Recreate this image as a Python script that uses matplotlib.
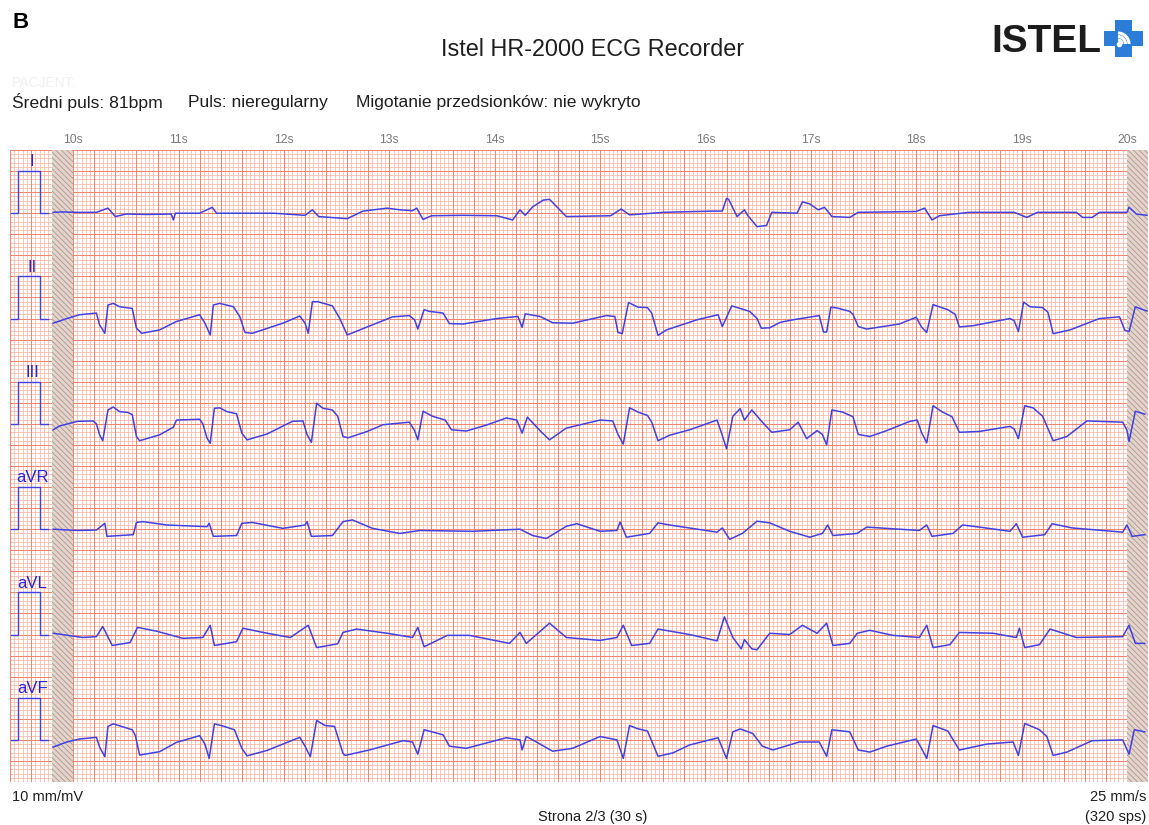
import numpy as np
import matplotlib.pyplot as plt
from matplotlib.patches import Rectangle, Polygon, Arc

plt.rcParams['font.family'] = ['Liberation Sans', 'DejaVu Sans']
plt.rcParams['hatch.linewidth'] = 0.6

# ---- data (time in s, amplitude in mV) ----
lead_names = ['I', 'II', 'III', 'aVR', 'aVL', 'aVF']
sec_ticks = [10, 11, 12, 13, 14, 15, 16, 17, 18, 19, 20]

t_I = [9.81, 9.90, 10.04, 10.22, 10.33, 10.40, 10.50, 10.70, 10.93, 10.95, 10.97, 11.20, 11.32, 11.36,
       11.60, 11.90, 12.20, 12.27, 12.33, 12.60, 12.75, 12.98, 13.10, 13.22, 13.26, 13.32, 13.40, 13.70,
       14.02, 14.17, 14.24, 14.29, 14.36, 14.46, 14.52, 14.59, 14.68, 15.10, 15.20, 15.28, 15.60, 15.90,
       16.10, 16.16, 16.20, 16.22, 16.30, 16.37, 16.40, 16.49, 16.58, 16.63, 16.87, 16.92, 16.99, 17.07,
       17.13, 17.20, 17.37, 17.45, 18.00, 18.08, 18.15, 18.22, 18.50, 18.93, 19.05, 19.15, 19.52, 19.58,
       19.67, 19.74, 20.00, 20.02, 20.09, 20.19]
v_I = [0.02, 0.03, 0.02, 0.02, 0.12, -0.08, -0.02, -0.03, -0.02, -0.16, 0.0, 0.0, 0.14, 0.0,
       0.0, 0.0, -0.05, 0.08, -0.08, -0.13, 0.05, 0.12, 0.08, 0.06, 0.12, -0.15, -0.06, -0.05,
       -0.06, -0.16, 0.08, -0.05, 0.15, 0.31, 0.33, 0.15, -0.08, -0.06, 0.10, -0.04, 0.02, 0.04,
       0.05, 0.05, 0.35, 0.33, -0.08, 0.08, -0.05, -0.32, -0.29, 0.02, 0.0, 0.27, 0.22, 0.08,
       0.14, -0.08, -0.10, 0.02, 0.04, 0.12, -0.16, -0.06, 0.02, 0.02, -0.10, 0.02, 0.02, -0.10,
       -0.10, 0.02, 0.02, 0.14, -0.02, -0.05]

t_II = [9.81, 9.94, 10.06, 10.22, 10.25, 10.30, 10.33, 10.38, 10.44, 10.56, 10.60, 10.65, 10.82, 10.98,
        11.20, 11.25, 11.30, 11.33, 11.39, 11.52, 11.58, 11.63, 11.70, 11.99, 12.15, 12.20, 12.23, 12.27,
        12.32, 12.46, 12.53, 12.60, 12.79, 13.03, 13.19, 13.24, 13.27, 13.33, 13.38, 13.51, 13.57, 13.70,
        14.02, 14.22, 14.26, 14.29, 14.43, 14.55, 14.74, 15.06, 15.14, 15.17, 15.21, 15.27, 15.36, 15.45,
        15.49, 15.55, 15.63, 15.92, 16.12, 16.16, 16.25, 16.42, 16.49, 16.53, 16.61, 16.71, 16.83, 17.08,
        17.12, 17.15, 17.19, 17.25, 17.37, 17.40, 17.45, 17.53, 17.84, 18.00, 18.05, 18.10, 18.16, 18.30,
        18.37, 18.41, 18.54, 18.89, 18.93, 18.97, 19.02, 19.08, 19.20, 19.25, 19.30, 19.46, 19.74, 19.93,
        19.98, 20.02, 20.08, 20.14, 20.19]
v_II = [-0.11, 0.0, 0.09, 0.13, -0.15, -0.35, 0.32, 0.36, 0.28, 0.24, -0.23, -0.35, -0.27, -0.07,
        0.09, -0.11, -0.39, 0.32, 0.36, 0.28, 0.05, -0.33, -0.35, -0.11, 0.06, -0.11, -0.35, 0.40,
        0.40, 0.30, 0.0, -0.39, -0.20, 0.04, 0.07, -0.03, -0.25, 0.21, 0.17, 0.13, -0.12, -0.13,
        0.0, 0.05, -0.21, 0.11, 0.05, -0.10, -0.11, 0.07, 0.05, -0.33, -0.36, 0.38, 0.27, 0.26,
        0.13, -0.40, -0.27, -0.03, 0.09, -0.19, 0.30, 0.17, 0.0, -0.23, -0.22, -0.09, -0.03, 0.07,
        -0.32, -0.32, 0.27, 0.25, 0.17, 0.10, -0.19, -0.25, -0.13, 0.03, -0.20, -0.33, 0.33, 0.21,
        0.10, -0.20, -0.17, 0.0, -0.05, -0.31, 0.39, 0.28, 0.26, 0.15, -0.36, -0.27, 0.0, 0.04,
        -0.28, -0.31, 0.28, 0.22, 0.18]

t_III = [9.81, 9.87, 10.04, 10.19, 10.22, 10.25, 10.28, 10.33, 10.38, 10.44, 10.52, 10.56, 10.60, 10.63,
         10.82, 10.95, 10.98, 11.20, 11.23, 11.27, 11.30, 11.34, 11.39, 11.46, 11.55, 11.60, 11.65, 11.84,
         12.08, 12.18, 12.22, 12.26, 12.31, 12.37, 12.46, 12.51, 12.56, 12.61, 12.79, 12.94, 13.19, 13.24,
         13.27, 13.32, 13.41, 13.53, 13.59, 13.73, 13.92, 14.11, 14.21, 14.26, 14.31, 14.43, 14.52, 14.68,
         15.00, 15.12, 15.17, 15.22, 15.28, 15.36, 15.45, 15.49, 15.55, 15.66, 15.85, 16.11, 16.15, 16.20,
         16.26, 16.33, 16.37, 16.44, 16.54, 16.63, 16.80, 16.88, 16.96, 17.06, 17.11, 17.15, 17.20, 17.30,
         17.40, 17.45, 17.56, 17.72, 17.94, 18.01, 18.05, 18.10, 18.16, 18.25, 18.34, 18.41, 18.60, 18.89,
         18.93, 18.97, 19.03, 19.11, 19.20, 19.30, 19.43, 19.62, 19.96, 20.00, 20.02, 20.08, 20.17]
v_III = [-0.14, -0.05, 0.06, 0.07, 0.0, -0.26, -0.40, 0.33, 0.40, 0.29, 0.27, 0.22, -0.30, -0.40,
         -0.26, -0.08, 0.09, 0.11, 0.0, -0.34, -0.46, 0.37, 0.38, 0.29, 0.24, -0.22, -0.38, -0.24,
         0.06, 0.07, -0.26, -0.44, 0.49, 0.37, 0.33, 0.18, -0.30, -0.33, -0.18, -0.02, 0.04, -0.16,
         -0.38, 0.30, 0.18, 0.09, -0.14, -0.17, -0.03, 0.14, 0.09, -0.22, 0.16, -0.16, -0.38, -0.10,
         0.09, 0.07, -0.25, -0.48, 0.38, 0.28, 0.20, 0.04, -0.40, -0.27, -0.14, 0.09, -0.20, -0.59,
         0.18, 0.36, 0.09, 0.33, 0.04, -0.20, -0.14, 0.04, -0.35, -0.16, -0.25, -0.50, 0.33, 0.28,
         0.17, -0.25, -0.30, -0.16, 0.06, 0.09, -0.20, -0.45, 0.43, 0.28, 0.17, -0.20, -0.18, -0.06,
         -0.12, -0.35, 0.43, 0.38, 0.18, -0.40, -0.30, 0.07, 0.04, -0.15, -0.42, 0.30, 0.23]

t_aVR = [9.81, 10.04, 10.22, 10.30, 10.32, 10.57, 10.60, 10.66, 10.89, 11.27, 11.29, 11.33, 11.55, 11.60,
         11.70, 11.99, 12.20, 12.22, 12.26, 12.46, 12.56, 12.65, 12.84, 13.10, 13.29, 13.79, 14.24, 14.36,
         14.49, 14.68, 14.78, 15.00, 15.16, 15.19, 15.25, 15.47, 15.55, 15.66, 16.11, 16.16, 16.23, 16.35,
         16.49, 16.61, 16.80, 16.99, 17.11, 17.16, 17.21, 17.44, 17.53, 18.03, 18.10, 18.15, 18.35, 18.44,
         18.60, 18.89, 18.95, 19.01, 19.22, 19.29, 19.48, 19.96, 20.00, 20.05, 20.17]
v_aVR = [0.0, -0.03, -0.02, 0.14, -0.17, -0.13, 0.16, 0.18, 0.10, 0.06, 0.14, -0.17, -0.15, 0.14,
         0.16, 0.02, 0.10, 0.18, -0.17, -0.15, 0.18, 0.22, 0.02, -0.10, -0.03, -0.05, 0.0, -0.15,
         -0.22, 0.07, 0.13, -0.05, -0.03, 0.17, -0.19, -0.10, 0.15, 0.10, -0.07, 0.03, -0.24, -0.10,
         0.19, 0.15, -0.05, -0.19, -0.10, 0.10, -0.15, -0.10, 0.05, -0.03, 0.10, -0.17, -0.10, 0.10,
         0.05, -0.05, 0.13, -0.19, -0.13, 0.13, 0.03, -0.07, 0.10, -0.17, -0.13]

t_aVL = [9.81, 10.09, 10.22, 10.28, 10.37, 10.54, 10.61, 10.79, 11.04, 11.23, 11.30, 11.34, 11.55, 11.61,
         11.80, 12.06, 12.23, 12.31, 12.51, 12.56, 12.69, 12.98, 13.22, 13.27, 13.33, 13.55, 13.76, 14.14,
         14.24, 14.30, 14.52, 14.68, 15.00, 15.16, 15.22, 15.30, 15.47, 15.55, 15.85, 16.11, 16.18, 16.26,
         16.34, 16.37, 16.44, 16.49, 16.61, 16.80, 16.92, 17.06, 17.15, 17.21, 17.37, 17.44, 17.56, 17.78,
         18.03, 18.10, 18.16, 18.32, 18.41, 18.73, 18.95, 18.98, 19.03, 19.17, 19.27, 19.52, 19.96, 20.02,
         20.08, 20.17]
v_aVL = [0.03, -0.07, -0.05, 0.19, -0.26, -0.19, 0.17, 0.08, -0.09, -0.07, 0.22, -0.26, -0.17, 0.15,
         0.05, -0.07, 0.22, -0.31, -0.22, 0.05, 0.13, 0.03, -0.07, 0.17, -0.29, -0.02, -0.02, -0.21,
         0.05, -0.21, 0.27, -0.07, -0.14, -0.07, 0.22, -0.26, -0.21, 0.13, 0.0, -0.15, 0.42, -0.07,
         -0.34, -0.12, -0.34, -0.36, 0.03, 0.0, 0.22, 0.03, 0.27, -0.26, -0.21, 0.03, 0.10, -0.02,
         -0.07, 0.22, -0.31, -0.24, 0.05, 0.03, -0.07, 0.15, -0.31, -0.24, 0.13, -0.07, -0.05, 0.22,
         -0.21, -0.21]

t_aVF = [9.81, 9.94, 10.06, 10.22, 10.25, 10.30, 10.33, 10.38, 10.56, 10.59, 10.63, 10.82, 10.98, 11.20,
         11.25, 11.29, 11.34, 11.42, 11.53, 11.60, 11.65, 11.84, 12.15, 12.20, 12.25, 12.31, 12.39, 12.48,
         12.56, 12.58, 12.81, 13.13, 13.22, 13.27, 13.33, 13.51, 13.57, 13.73, 14.11, 14.24, 14.26, 14.30,
         14.36, 14.55, 14.74, 15.00, 15.16, 15.22, 15.28, 15.35, 15.45, 15.55, 15.69, 15.85, 16.12, 16.20,
         16.26, 16.33, 16.45, 16.54, 16.64, 16.89, 17.08, 17.15, 17.20, 17.37, 17.45, 17.56, 17.72, 18.00,
         18.05, 18.10, 18.16, 18.30, 18.41, 18.67, 18.92, 18.97, 19.03, 19.17, 19.24, 19.30, 19.43, 19.67,
         19.96, 20.02, 20.07, 20.17]
v_aVF = [-0.17, -0.05, 0.02, 0.06, -0.17, -0.40, 0.32, 0.38, 0.24, 0.10, -0.36, -0.28, -0.06, 0.10,
         -0.10, -0.44, 0.38, 0.33, 0.24, -0.20, -0.38, -0.25, 0.06, -0.15, -0.40, 0.46, 0.34, 0.32,
         -0.32, -0.37, -0.24, -0.02, -0.05, -0.34, 0.24, 0.12, -0.15, -0.20, 0.05, 0.0, -0.24, 0.08,
         0.0, -0.27, -0.20, 0.08, 0.0, -0.44, 0.34, 0.27, 0.21, -0.39, -0.31, -0.12, 0.05, -0.44,
         0.19, 0.26, 0.15, -0.15, -0.24, -0.05, -0.05, -0.39, 0.24, 0.19, -0.24, -0.29, -0.15, 0.02,
         -0.20, -0.44, 0.34, 0.21, -0.24, -0.10, -0.05, -0.37, 0.39, 0.24, 0.08, -0.37, -0.29, -0.02,
         0.0, -0.34, 0.24, 0.19]

# 1 mV calibration pulse
cal_t = [9.41, 9.48, 9.48, 9.68, 9.68, 9.76]
cal_v = [0, 0, 1, 1, 0, 0]

traces = {'I': (t_I, v_I), 'II': (t_II, v_II), 'III': (t_III, v_III),
          'aVR': (t_aVR, v_aVR), 'aVL': (t_aVL, v_aVL), 'aVF': (t_aVF, v_aVF)}

W, H = 1149, 825
fig = plt.figure(figsize=(W / 100, H / 100), dpi=100)
fig.patch.set_facecolor('white')

# paper area in pixels
pl, pr, pt, pb = 10, 1148, 150, 782
t0, t1 = 9.4, 20.2
blue = '#4141e2'

paper = fig.add_axes([pl / W, 1 - pb / H, (pr - pl) / W, (pb - pt) / H])
paper.set_xlim(t0, t1)
paper.set_ylim(0, 150)
paper.axis('off')

# ECG grid: 1 mm minor, 5 mm major
minor_x = np.arange(t0, t1 + 1e-6, 0.04)
major_x = np.arange(t0, t1 + 1e-6, 0.2)
minor_y = np.arange(0, 150.001, 1)
major_y = np.arange(0, 150.001, 5)
paper.vlines(minor_x, 0, 150, color='#f9b09c', lw=0.5, zorder=1)
paper.hlines(minor_y, t0, t1, color='#f9b09c', lw=0.5, zorder=1)
paper.vlines(major_x, 0, 150, color='#f2876e', lw=0.75, zorder=2)
paper.hlines(major_y, t0, t1, color='#f2876e', lw=0.75, zorder=2)

# hatched lead-in / lead-out bands
for xs in (9.8, 20.0):
    paper.add_patch(Rectangle((xs, 0), 0.2, 150, facecolor='#e4d4cc', edgecolor='#a89890',
                              hatch='\\\\\\\\\\\\', lw=0, zorder=3))

# second labels above the paper
for s in sec_ticks:
    paper.text(s, 152.3, f'{s}s', ha='center', va='center', fontsize=8.8, color='#7a7a7a', clip_on=False)

# lead strips, 25 mm each
strip_h = (pb - pt) / 6
for i, name in enumerate(lead_names):
    top = pt + i * strip_h
    ax = fig.add_axes([pl / W, 1 - (top + strip_h) / H, (pr - pl) / W, strip_h / H])
    ax.set_xlim(t0, t1)
    ax.set_ylim(-1.0, 1.5)
    ax.axis('off')
    ax.patch.set_alpha(0)
    tt, vv = traces[name]
    ax.plot(cal_t, cal_v, color=blue, lw=1.0)
    ax.plot(tt, vv, color=blue, lw=1.1, clip_on=False)
    ax.text(9.61, 1.22, name, ha='center', va='center', fontsize=12, color='#2424dd')

# header
fig.text(12 / W, 1 - 22 / H, 'B', fontsize=16, fontweight='bold', ha='left', va='center')
fig.text(593 / W, 1 - 50 / H, 'Istel HR-2000 ECG Recorder', fontsize=16.8, ha='center', va='center',
         color='#1e1e1e')
fig.text(12 / W, 1 - 83 / H, 'PACJENT:', fontsize=10, ha='left', va='center', color='#f0f0f0')
fig.text(12 / W, 1 - 102 / H, 'Średni puls: 81bpm', fontsize=12.6, ha='left', va='center', color='#1e1e1e')
fig.text(188 / W, 1 - 102 / H, 'Puls: nieregularny', fontsize=12.6, ha='left', va='center', color='#1e1e1e')
fig.text(356 / W, 1 - 102 / H, 'Migotanie przedsionków: nie wykryto', fontsize=12.6, ha='left',
         va='center', color='#1e1e1e')

# logo
fig.text(991 / W, 1 - 42 / H, 'ISTEL', fontsize=28, fontweight='bold', ha='left', va='center',
         color='#1c1c1c')
logo = fig.add_axes([1104 / W, 1 - 57 / H, 40 / W, 38 / H])
logo.set_xlim(0, 40)
logo.set_ylim(0, 38)
logo.axis('off')
cross = [(11, 0), (28, 0), (28, 11), (39, 11), (39, 26), (28, 26), (28, 37), (11, 37), (11, 26),
         (0, 26), (0, 11), (11, 11)]
logo.add_patch(Polygon(cross, closed=True, facecolor='#2b7dd8', edgecolor='none'))
for r in (8, 15, 22):
    logo.add_patch(Arc((14, 13), r, r, theta1=0, theta2=90, color='white', lw=2.2))
logo.plot([14.5], [13.5], 'o', color='white', ms=3)

# footer
fig.text(12 / W, 1 - 797 / H, '10 mm/mV', fontsize=10.5, ha='left', va='center', color='#1e1e1e')
fig.text(1146 / W, 1 - 797 / H, '25 mm/s', fontsize=10.5, ha='right', va='center', color='#1e1e1e')
fig.text(593 / W, 1 - 817 / H, 'Strona 2/3 (30 s)', fontsize=10.5, ha='center', va='center', color='#1e1e1e')
fig.text(1146 / W, 1 - 817 / H, '(320 sps)', fontsize=10.5, ha='right', va='center', color='#1e1e1e')

fig.savefig('out.png', dpi=100, facecolor='white')
